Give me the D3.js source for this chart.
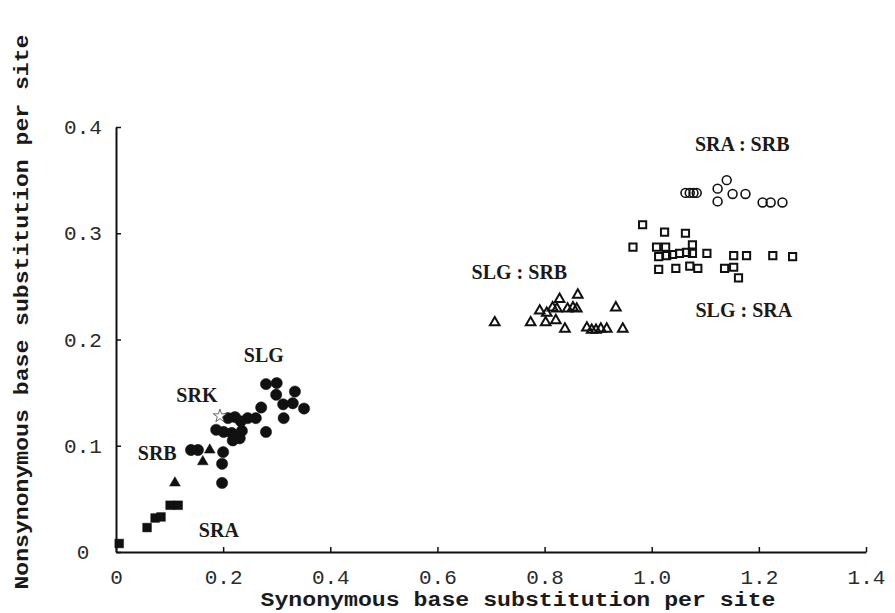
<!DOCTYPE html>
<html>
<head>
<meta charset="utf-8">
<script src="https://cdn.jsdelivr.net/npm/d3@7"></script>
<style>
    body { margin: 0; background: #fff; }
    .tick text { font-family: "Liberation Mono", monospace; font-size: 21px; fill: #2a2a2a; }
    .axis path, .axis line { stroke: #111; }
    .group-label { font-family: "Liberation Serif", serif; font-weight: bold; font-size: 20px; fill: #1a1a1a; }
    .axis-title { font-family: "Liberation Mono", monospace; font-weight: bold; font-size: 20px; fill: #1a1a1a; }
</style>
</head>
<body>
<div id="chart"></div>
<script>

// x = synonymous, y = nonsynonymous substitutions per site
const sraPoints = [[0.006, 0.008], [0.058, 0.023], [0.073, 0.032], [0.084, 0.033], [0.101, 0.044], [0.116, 0.044]];

const srbPoints = [[0.110, 0.065], [0.162, 0.085], [0.175, 0.096]];

const srkPoints = [[0.194, 0.128]];

const slgPoints = [
    [0.280, 0.158], [0.300, 0.159], [0.299, 0.148], [0.334, 0.151], [0.312, 0.139],
    [0.330, 0.140], [0.351, 0.135], [0.313, 0.126], [0.271, 0.136], [0.280, 0.113],
    [0.261, 0.126], [0.246, 0.126], [0.233, 0.123], [0.222, 0.127], [0.209, 0.126],
    [0.187, 0.115], [0.201, 0.113], [0.216, 0.112], [0.235, 0.114], [0.218, 0.105],
    [0.231, 0.107], [0.200, 0.094], [0.198, 0.083], [0.198, 0.065], [0.140, 0.096],
    [0.153, 0.096]
];

const slgSrbPoints = [
    [0.707, 0.216], [0.774, 0.216], [0.791, 0.227], [0.804, 0.225], [0.815, 0.230],
    [0.823, 0.229], [0.828, 0.238], [0.862, 0.242], [0.843, 0.229], [0.853, 0.230],
    [0.860, 0.229], [0.802, 0.216], [0.821, 0.218], [0.838, 0.210], [0.879, 0.211],
    [0.888, 0.209], [0.896, 0.209], [0.905, 0.210], [0.916, 0.210], [0.933, 0.230],
    [0.946, 0.210]
];

const sraSrbPoints = [
    [1.063, 0.338], [1.071, 0.338], [1.078, 0.338], [1.084, 0.338], [1.140, 0.350],
    [1.123, 0.342], [1.123, 0.330], [1.151, 0.337], [1.175, 0.337], [1.207, 0.329],
    [1.222, 0.329], [1.244, 0.329]
];

const slgSraPoints = [
    [0.983, 0.308], [1.024, 0.301], [1.063, 0.300], [0.965, 0.287], [1.009, 0.287],
    [1.026, 0.287], [1.076, 0.289], [1.013, 0.278], [1.028, 0.279], [1.039, 0.280],
    [1.052, 0.281], [1.065, 0.282], [1.076, 0.281], [1.103, 0.281], [1.153, 0.279],
    [1.177, 0.279], [1.226, 0.279], [1.263, 0.278], [1.013, 0.266], [1.045, 0.267],
    [1.071, 0.269], [1.086, 0.267], [1.136, 0.267], [1.153, 0.268], [1.162, 0.258]
];

const groupLabels = [
    {text: 'SRA', x: 0.192, y: 0.021},
    {text: 'SRB', x: 0.077, y: 0.093},
    {text: 'SRK', x: 0.151, y: 0.148},
    {text: 'SLG', x: 0.276, y: 0.185},
    {text: 'SLG : SRB', x: 0.753, y: 0.264},
    {text: 'SRA : SRB', x: 1.169, y: 0.384},
    {text: 'SLG : SRA', x: 1.172, y: 0.228}
];

const xTicks = [0, 0.2, 0.4, 0.6, 0.8, 1.0, 1.2, 1.4];
const yTicks = [0, 0.1, 0.2, 0.3, 0.4];

class ScatterVis {

    constructor(parentElement) {
        this.parentElement = parentElement;
        this.initVis();
    }

    initVis() {
        let vis = this;

        vis.width = 895;
        vis.height = 613;

        vis.svg = d3.select("#" + vis.parentElement).append("svg")
            .attr("width", vis.width)
            .attr("height", vis.height);

        vis.x = d3.scaleLinear().domain([0, 1.4]).range([116, 866]);
        vis.y = d3.scaleLinear().domain([0, 0.4]).range([552, 127]);

        // axes, ticks point inward
        vis.svg.append("g")
            .attr("class", "axis x-axis")
            .attr("transform", `translate(0, ${vis.y(0)})`)
            .call(d3.axisBottom(vis.x)
                .tickValues(xTicks)
                .tickSizeInner(-5)
                .tickSizeOuter(0)
                .tickPadding(17)
                .tickFormat(d => d === 0 ? "0" : d3.format(".1f")(d)));

        vis.svg.append("g")
            .attr("class", "axis y-axis")
            .attr("transform", `translate(${vis.x(0)}, 0)`)
            .call(d3.axisLeft(vis.y)
                .tickValues(yTicks)
                .tickSizeInner(-5)
                .tickSizeOuter(0)
                .tickFormat(d => d === 0 ? "0" : d3.format(".1f")(d)));

        vis.svg.selectAll(".axis path").attr("stroke-width", 2);
        vis.svg.selectAll(".axis line").attr("stroke-width", 1.5);
        vis.svg.selectAll(".y-axis .tick text")
            .attr("text-anchor", "middle")
            .attr("x", -33)
            .attr("dy", "0.32em");

        // axis titles
        vis.svg.append("text")
            .attr("class", "axis-title")
            .attr("x", 518)
            .attr("y", 606)
            .attr("text-anchor", "middle")
            .attr("textLength", 515)
            .attr("lengthAdjust", "spacingAndGlyphs")
            .text("Synonymous base substitution per site");

        vis.svg.append("text")
            .attr("class", "axis-title")
            .attr("transform", "translate(28, 312) rotate(-90)")
            .attr("text-anchor", "middle")
            .attr("textLength", 555)
            .attr("lengthAdjust", "spacingAndGlyphs")
            .text("Nonsynonymous base substitution per site");

        vis.updateVis();
    }

    drawSymbols(data, type, size, filled, strokeWidth) {
        let vis = this;
        let sym = d3.symbol().type(type).size(size);
        vis.svg.append("g")
            .selectAll("path")
            .data(data)
            .join("path")
            .attr("d", sym)
            .attr("transform", d => `translate(${vis.x(d[0])}, ${vis.y(d[1])})`)
            .attr("fill", filled ? "#111" : "none")
            .attr("stroke", "#111")
            .attr("stroke-width", strokeWidth);
    }

    updateVis() {
        let vis = this;

        vis.drawSymbols(sraPoints, d3.symbolSquare, 76, true, 0.5);
        vis.drawSymbols(srbPoints, d3.symbolTriangle, 50, true, 0.5);
        vis.drawSymbols(slgPoints, d3.symbolCircle, 100, true, 0.5);
        vis.drawSymbols(slgSrbPoints, d3.symbolTriangle, 40, false, 2);
        vis.drawSymbols(sraSrbPoints, d3.symbolCircle, 62, false, 1.6);
        vis.drawSymbols(slgSraPoints, d3.symbolSquare, 52, false, 2);

        // SRK star, open on top of the circles
        vis.svg.append("g")
            .selectAll("path")
            .data(srkPoints)
            .join("path")
            .attr("d", d3.symbol().type(d3.symbolStar).size(55))
            .attr("transform", d => `translate(${vis.x(d[0])}, ${vis.y(d[1])})`)
            .attr("fill", "#fff")
            .attr("stroke", "#444")
            .attr("stroke-width", 0.8);

        vis.svg.append("g")
            .selectAll("text")
            .data(groupLabels)
            .join("text")
            .attr("class", "group-label")
            .attr("x", d => vis.x(d.x))
            .attr("y", d => vis.y(d.y))
            .attr("text-anchor", "middle")
            .attr("dominant-baseline", "central")
            .text(d => d.text);
    }
}

new ScatterVis("chart");
</script>
</body>
</html>
